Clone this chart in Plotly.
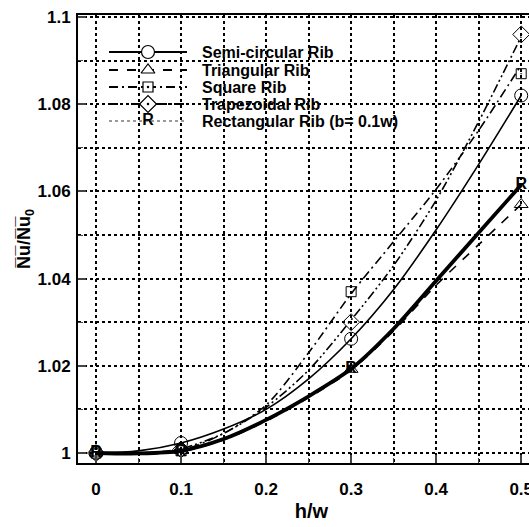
import plotly.graph_objects as go

# marker data
h_pts = [0.0, 0.1, 0.3, 0.5]
semi_pts = [1.0, 1.0023, 1.0262, 1.0820]
tri_pts = [1.0, 1.0012, 1.0192, 1.0570]
sq_pts = [1.0, 1.0005, 1.0370, 1.0870]
trap_pts = [1.0, 1.0008, 1.0300, 1.0960]
rect_pts = [1.0, 1.0003, 1.0192, 1.0615]

# fitted curve samples
h_curve = [0.0, 0.05, 0.1, 0.15, 0.2, 0.25, 0.3, 0.35, 0.4, 0.45, 0.5]
semi_curve = [1.0, 1.0005, 1.0023, 1.0055, 1.0100, 1.0170, 1.0262, 1.0375, 1.0512, 1.0662, 1.0820]
tri_curve = [1.0, 0.9998, 1.0003, 1.0030, 1.0073, 1.0127, 1.0190, 1.0280, 1.0385, 1.0478, 1.0570]
sq_curve = [1.0, 0.9999, 1.0006, 1.0045, 1.0110, 1.0230, 1.0365, 1.0485, 1.0605, 1.0740, 1.0890]
trap_curve = [1.0, 0.9999, 1.0010, 1.0045, 1.0105, 1.0190, 1.0305, 1.0430, 1.0580, 1.0760, 1.0955]
rect_curve = [1.0, 0.9999, 1.0005, 1.0032, 1.0076, 1.0130, 1.0193, 1.0285, 1.0395, 1.0505, 1.0615]

names = ["Semi-circular Rib", "Triangular Rib", "Square Rib", "Trapezoidal Rib", "Rectangular Rib (b= 0.1w)"]
x_ticks = [0, 0.1, 0.2, 0.3, 0.4, 0.5]
x_tick_text = ["0", "0.1", "0.2", "0.3", "0.4", "0.5"]
y_ticks = [1.0, 1.02, 1.04, 1.06, 1.08, 1.1]
y_tick_text = ["1", "1.02", "1.04", "1.06", "1.08", "1.1"]

FONT = "Liberation Sans"
fig = go.Figure()

series = [
    (names[0], semi_curve, semi_pts, "solid", 1.6, "circle-open", 13, False),
    (names[1], tri_curve, tri_pts, "dash", 1.6, "triangle-up-open", 12, False),
    (names[2], sq_curve, sq_pts, "9px,4px,2px,4px", 1.6, "square-open-dot", 10, True),
    (names[3], trap_curve, trap_pts, "9px,3px,2px,3px,2px,3px", 1.6, "diamond-open-dot", 13, True),
]
for nm, cv, pts, dash, w, sym, sz, dot in series:
    fig.add_trace(go.Scatter(x=h_curve, y=cv, mode="lines",
                             line=dict(color="black", width=w, dash=dash, shape="spline", smoothing=0.8),
                             showlegend=False, hoverinfo="skip"))
    fig.add_trace(go.Scatter(x=h_pts, y=pts, mode="markers", showlegend=False,
                             marker=dict(symbol=sym, size=sz, color="black", line=dict(width=1))))

fig.add_trace(go.Scatter(x=h_curve, y=rect_curve, mode="lines",
                         line=dict(color="black", width=3.8, shape="spline", smoothing=0.8),
                         showlegend=False, hoverinfo="skip"))
fig.add_trace(go.Scatter(x=h_pts, y=rect_pts, mode="text", text=["R"] * len(h_pts), textposition="middle center",
                         textfont=dict(family=FONT, size=16, color="black", weight="bold"), showlegend=False))

# manual legend on an overlay axis measured in pixels of the plot area
leg_rows = [52, 70, 87, 104, 121]
leg_x0, leg_x1, leg_xm, leg_tx = 109, 187, 148, 200
for i, (nm, cv, pts, dash, w, sym, sz, dot) in enumerate(series):
    yy = leg_rows[i]
    fig.add_trace(go.Scatter(x=[leg_x0, leg_x1], y=[yy, yy], mode="lines", xaxis="x2", yaxis="y2",
                             line=dict(color="black", width=2, dash=dash), showlegend=False, hoverinfo="skip"))
    fig.add_trace(go.Scatter(x=[leg_xm], y=[yy], mode="markers", xaxis="x2", yaxis="y2",
                             marker=dict(symbol=sym.replace("-open", "").replace("-dot", ""), size=sz, color="white",
                                         line=dict(width=1.2, color="black")),
                             showlegend=False, hoverinfo="skip"))
    if dot:
        fig.add_trace(go.Scatter(x=[leg_xm], y=[yy], mode="markers", xaxis="x2", yaxis="y2",
                                 marker=dict(symbol="circle", size=2.5, color="black"),
                                 showlegend=False, hoverinfo="skip"))
fig.add_trace(go.Scatter(x=[leg_x0, leg_x1], y=[leg_rows[4], leg_rows[4]], mode="lines", xaxis="x2", yaxis="y2",
                         line=dict(color="#9a9a9a", width=2, dash="dot"), showlegend=False, hoverinfo="skip"))
fig.add_trace(go.Scatter(x=[leg_xm], y=[leg_rows[4]], mode="text", text=["R"], xaxis="x2", yaxis="y2",
                         textfont=dict(family=FONT, size=16, color="black", weight="bold"),
                         showlegend=False, hoverinfo="skip"))
for i, nm in enumerate(names):
    fig.add_annotation(x=leg_tx, y=leg_rows[i], xref="x2", yref="y2", text=nm, showarrow=False,
                       xanchor="left", yanchor="middle",
                       font=dict(family=FONT, size=16, color="black", weight="bold"))

fig.update_layout(
    width=560, height=527,
    margin=dict(l=78, r=15, t=15, b=64),
    paper_bgcolor="white", plot_bgcolor="white",
    font=dict(family=FONT, size=17, color="black", weight="bold"),
    showlegend=False,
    xaxis2=dict(overlaying="x", range=[78, 545], visible=False, fixedrange=True),
    yaxis2=dict(overlaying="y", range=[463, 15], visible=False, fixedrange=True),
)
fig.update_layout(xaxis=dict(range=[-0.0212, 0.528], tickvals=x_ticks, ticktext=x_tick_text, ticks="inside", ticklen=8,
                 tickwidth=1.5, showline=True, linewidth=2, linecolor="black", mirror=True,
                 ticklabelstandoff=10, automargin=False,
                 showgrid=True, gridcolor="black", griddash="dot", gridwidth=1.5, zeroline=False,
                 minor=dict(dtick=0.05, tick0=0, ticks="inside", ticklen=5, tickwidth=1.2, showgrid=True,
                            gridcolor="black", griddash="dot", gridwidth=1.5),
                 title=dict(text="h/w", font=dict(family=FONT, size=20, weight="bold"), standoff=6)),
                  yaxis=dict(range=[0.99771, 1.10046], tickvals=y_ticks, ticktext=y_tick_text, ticks="inside", ticklen=8,
                 tickwidth=1.5, showline=True, linewidth=2, linecolor="black", mirror=True,
                 ticklabelstandoff=2, automargin=False,
                 showgrid=True, gridcolor="black", griddash="dot", gridwidth=1.5, zeroline=False,
                 minor=dict(dtick=0.01, tick0=1.0, ticks="inside", ticklen=5, tickwidth=1.2, showgrid=True,
                            gridcolor="black", griddash="dot", gridwidth=1.5),
                 title=dict(text="N\u0305u\u0305/N\u0305u\u0305<sub>0</sub>",
                            font=dict(family=FONT, size=18, weight="bold"), standoff=2)))

fig.write_html("out.html")
